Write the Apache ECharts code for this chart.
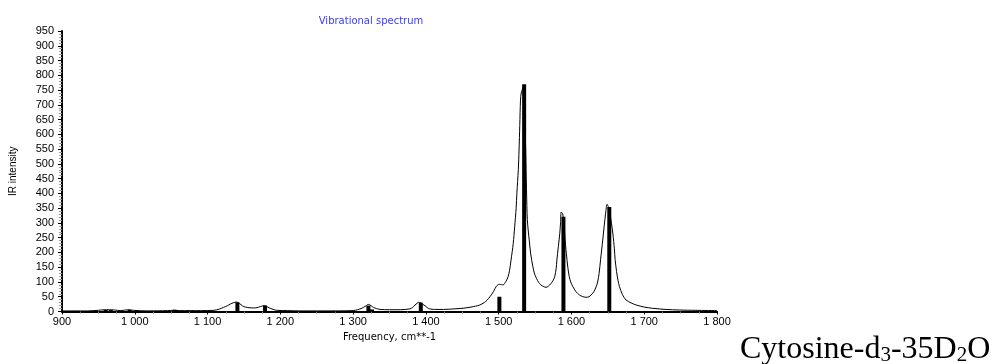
<!DOCTYPE html>
<html>
<head>
<meta charset="utf-8">
<script src="https://cdn.jsdelivr.net/npm/echarts@6/dist/echarts.min.js"></script>
<style>
  html, body { margin: 0; padding: 0; background: #fff; }
  #chart { width: 993px; height: 364px; }
</style>
</head>
<body>
<div id="chart"></div>
<script>
// Calculated stick spectrum: [frequency cm^-1, IR intensity]
const stickLines = [
  [960, 5], [967, 5], [993, 5], [1055, 6],
  [1141, 31], [1179, 20],
  [1321, 20], [1326, 7], [1393, 30],
  [1501, 50], [1535, 770], [1589, 321], [1652, 354]
];

// Broadened spectrum envelope: [frequency cm^-1, IR intensity]
const envelope = [
  [900, 2], [935, 2], [950, 4], [958, 6], [965, 6], [972, 5], [981, 3], [987, 5],
  [992, 6], [998, 4], [1017, 2], [1045, 3], [1054, 4], [1062, 3], [1090, 3],
  [1109, 4], [1116, 8], [1122, 14], [1127, 19], [1131, 25], [1136, 30],
  [1140, 32], [1144, 27], [1148, 19], [1152, 15], [1157, 13], [1163, 12],
  [1168, 13], [1173, 17], [1178, 20], [1182, 16], [1186, 11], [1190, 7],
  [1195, 4], [1210, 3], [1227, 2], [1260, 2], [1300, 3], [1306, 6],
  [1312, 11], [1317, 18], [1321, 24], [1325, 19], [1328, 14], [1332, 10],
  [1337, 7], [1350, 6], [1365, 6], [1378, 9], [1382, 14], [1385, 22],
  [1388, 28], [1390, 31], [1393, 29], [1396, 24], [1399, 19], [1402, 13],
  [1405, 9], [1412, 7], [1424, 7], [1440, 9], [1451, 11], [1462, 15],
  [1468, 18], [1474, 22], [1480, 30], [1484, 38], [1488, 50], [1493, 68],
  [1497, 86], [1501, 92], [1504, 91], [1506, 90], [1510, 102], [1513, 118],
  [1515, 140], [1517, 174], [1520, 230], [1522, 287], [1524, 350], [1525, 400],
  [1527, 480], [1528, 547], [1529, 630], [1530, 716], [1531, 740], [1532, 748],
  [1534, 761], [1535, 755], [1537, 560], [1539, 333], [1540, 290], [1542, 242],
  [1544, 195], [1547, 152], [1549, 130], [1552, 112], [1555, 98], [1558, 90],
  [1562, 84], [1565, 82], [1568, 85], [1572, 95], [1575, 106], [1577, 118],
  [1579, 145], [1580, 174], [1582, 220], [1584, 265], [1585, 300], [1586, 337],
  [1588, 330], [1590, 290], [1591, 250], [1593, 197], [1595, 150], [1597, 118],
  [1599, 100], [1602, 84], [1606, 68], [1611, 56], [1615, 51], [1620, 48],
  [1624, 50], [1627, 56], [1631, 68], [1634, 84], [1636, 100], [1638, 129],
  [1640, 175], [1643, 242], [1645, 290], [1647, 333], [1649, 363], [1651, 352],
  [1653, 330], [1655, 298], [1657, 262], [1659, 212], [1660, 176], [1662, 135],
  [1664, 105], [1666, 84], [1670, 58], [1675, 39], [1682, 29], [1689, 22],
  [1700, 15], [1711, 11], [1730, 7], [1748, 5], [1770, 4], [1800, 3]
];

// Frequency tick labels use a space as the thousands separator
function freqLabel(v) {
  return v >= 1000 ? String(v).replace(/(\d)(\d{3})$/, '$1 $2') : String(v);
}

const chart = echarts.init(document.getElementById('chart'), null, { renderer: 'canvas' });

chart.setOption({
  animation: false,
  backgroundColor: '#ffffff',
  textStyle: { fontFamily: 'Liberation Sans, Arial, sans-serif' },
  title: {
    text: 'Vibrational spectrum',
    left: 366,
    textAlign: 'center',
    top: 11,
    textStyle: { color: '#3a3aff', fontSize: 10, fontWeight: 'normal', fontFamily: 'DejaVu Sans, Verdana, sans-serif' }
  },
  grid: { left: 61, right: 276, top: 31, bottom: 52.5 },
  xAxis: {
    type: 'value',
    min: 900, max: 1800, interval: 100,
    name: 'Frequency, cm**-1',
    nameLocation: 'middle',
    nameGap: 21,
    nameTextStyle: { color: '#000', fontSize: 10, fontFamily: 'DejaVu Sans, Verdana, sans-serif' },
    axisLine: { show: true, onZero: false, lineStyle: { color: '#000', width: 2 } },
    axisTick: { show: true, inside: false, length: 3, lineStyle: { color: '#000', width: 1 } },
    minorTick: { show: true, splitNumber: 4, length: 2, lineStyle: { color: '#777', width: 1 } },
    axisLabel: { color: '#000', fontSize: 11, margin: 5, formatter: freqLabel, showMaxLabel: true },
    splitLine: { show: false }
  },
  yAxis: {
    type: 'value',
    min: 0, max: 950, interval: 50,
    name: 'IR intensity',
    nameLocation: 'middle',
    nameGap: 44,
    nameRotate: 90,
    nameTextStyle: { color: '#000', fontSize: 10 },
    axisLine: { show: true, lineStyle: { color: '#000', width: 2 } },
    axisTick: { show: true, inside: false, length: 4, lineStyle: { color: '#000', width: 1 } },
    minorTick: { show: true, splitNumber: 5, length: 3, lineStyle: { color: '#999', width: 1 } },
    axisLabel: { color: '#000', fontSize: 11, margin: 8 },
    splitLine: { show: false }
  },
  series: [
    {
      type: 'bar',
      name: 'sticks',
      data: stickLines,
      barWidth: 4,
      itemStyle: { color: '#000' },
      z: 3
    },
    {
      type: 'line',
      name: 'envelope',
      data: envelope,
      showSymbol: false,
      smooth: 0.3,
      lineStyle: { color: '#000', width: 1 },
      z: 4
    }
  ],
  graphic: [
    {
      type: 'text',
      left: 740,
      top: 334,
      style: {
        text: '{m|Cytosine-d}{s|3}{m|-35D}{s|2}{m|O}',
        rich: {
          m: { fontFamily: 'Liberation Serif, Times New Roman, serif', fontSize: 32, fill: '#000', verticalAlign: 'bottom', lineHeight: 34 },
          s: { fontFamily: 'Liberation Serif, Times New Roman, serif', fontSize: 21, fill: '#000', verticalAlign: 'bottom', lineHeight: 30 }
        }
      }
    }
  ]
});
</script>
</body>
</html>
